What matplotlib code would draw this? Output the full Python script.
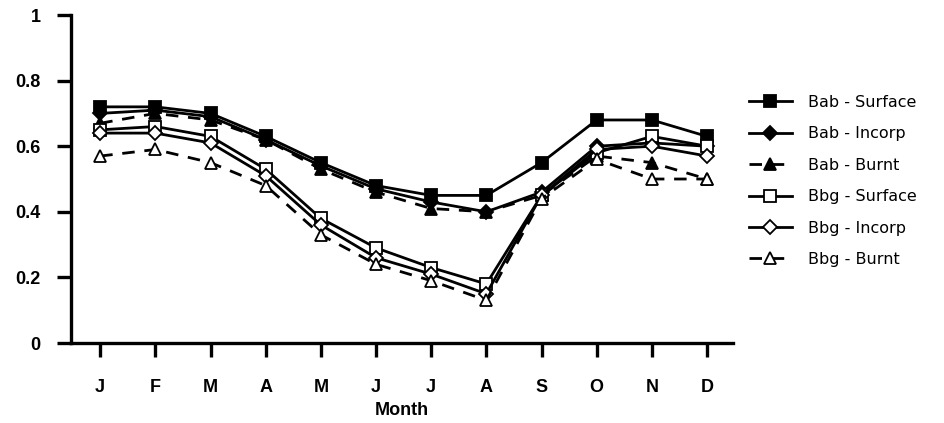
import matplotlib
matplotlib.use("Agg")
import matplotlib.pyplot as plt

plt.rcParams['font.family'] = ['Liberation Sans', 'DejaVu Sans']

months = ['J', 'F', 'M', 'A', 'M', 'J', 'J', 'A', 'S', 'O', 'N', 'D']

bab_surface = [0.72, 0.72, 0.70, 0.63, 0.55, 0.48, 0.45, 0.45, 0.55, 0.68, 0.68, 0.63]
bab_incorp = [0.70, 0.71, 0.69, 0.62, 0.54, 0.47, 0.43, 0.40, 0.46, 0.60, 0.61, 0.60]
bab_burnt = [0.67, 0.70, 0.68, 0.62, 0.53, 0.46, 0.41, 0.40, 0.45, 0.57, 0.55, 0.50]
bbg_surface = [0.65, 0.66, 0.63, 0.53, 0.38, 0.29, 0.23, 0.18, 0.45, 0.58, 0.63, 0.60]
bbg_incorp = [0.64, 0.64, 0.61, 0.51, 0.36, 0.26, 0.21, 0.15, 0.45, 0.59, 0.60, 0.57]
bbg_burnt = [0.57, 0.59, 0.55, 0.48, 0.33, 0.24, 0.19, 0.13, 0.44, 0.56, 0.50, 0.50]

x = list(range(len(months)))

fig = plt.figure(figsize=(9.45, 4.23), dpi=100)
ax = fig.add_axes([0.0751, 0.1891, 0.7005, 0.7754])

dash = (0, (4.5, 3.5))
# series: values, label, marker, fill, linestyle
series = [
    (bab_surface, 'Bab - Surface', 's', 'black', '-'),
    (bab_incorp, 'Bab - Incorp', 'D', 'black', '-'),
    (bab_burnt, 'Bab - Burnt', '^', 'black', dash),
    (bbg_surface, 'Bbg - Surface', 's', 'white', '-'),
    (bbg_incorp, 'Bbg - Incorp', 'D', 'white', '-'),
    (bbg_burnt, 'Bbg - Burnt', '^', 'white', dash),
]

for vals, lab, mk, fc, ls in series:
    ms = 7 if mk == 'D' else 9
    ax.plot(x, vals, color='black', linestyle=ls, linewidth=2.0,
            marker=mk, markersize=ms, markerfacecolor=fc,
            markeredgecolor='black', markeredgewidth=1.3, label=lab)

ax.set_xlim(-0.53, 11.47)
ax.set_ylim(0, 1)
ax.set_yticks([0, 0.2, 0.4, 0.6, 0.8, 1])
ax.set_yticklabels(['0', '0.2', '0.4', '0.6', '0.8', '1'])
ax.set_xticks(x)
ax.set_xticklabels(months)

for s in ['top', 'right']:
    ax.spines[s].set_visible(False)
for s in ['left', 'bottom']:
    ax.spines[s].set_linewidth(2.4)

ax.tick_params(axis='both', direction='out', length=10, width=2.4,
               labelsize=13)
ax.tick_params(axis='x', pad=16)
ax.tick_params(axis='y', pad=12)
for t in ax.get_xticklabels() + ax.get_yticklabels():
    t.set_fontweight('bold')

ax.set_xlabel('Month', fontsize=13, fontweight='bold', labelpad=4)

leg = fig.legend(loc='upper left', bbox_to_anchor=(0.777, 0.81), frameon=False,
                 prop={'family': 'DejaVu Sans', 'size': 11.5},
                 handlelength=2.7, labelspacing=1.03, handletextpad=1.0)

fig.savefig('out.png', dpi=100)
